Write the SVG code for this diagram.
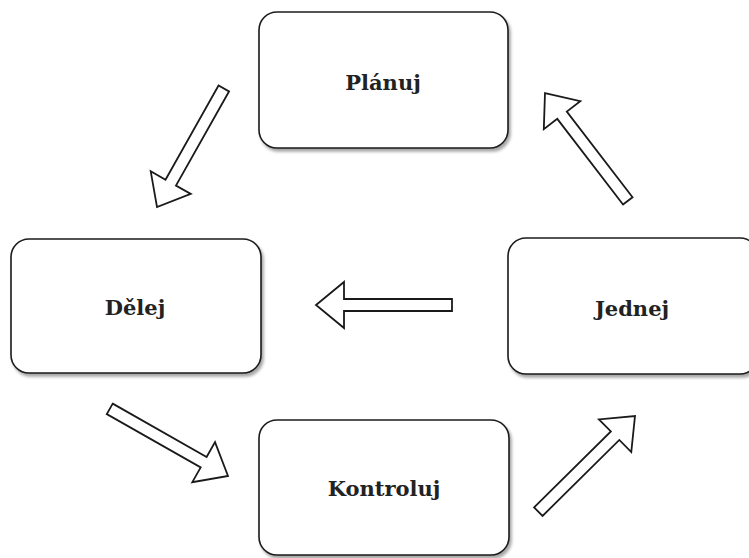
<svg xmlns="http://www.w3.org/2000/svg" width="749" height="558" viewBox="0 0 749 558">
<defs>
<filter id="sh" x="-10%" y="-10%" width="130%" height="130%">
<feDropShadow dx="2" dy="3" stdDeviation="1.5" flood-color="#000" flood-opacity="0.35"/>
</filter>
<polygon id="arr" points="-136,-6 -28,-6 -28,-23 0,0 -28,23 -28,6 -136,6"/>
</defs>
<style>
.box{fill:#fff;stroke:#1a1a1a;stroke-width:1.6;filter:url(#sh)}
.lbl{font-family:"DejaVu Serif","Liberation Serif",serif;font-weight:bold;font-size:21px;fill:#222;text-anchor:middle}
.a{fill:#fff;stroke:#1a1a1a;stroke-width:1.8;stroke-linejoin:miter}
</style>
<rect width="749" height="558" fill="#fff"/>
<g id="planuj">
<rect class="box" x="259" y="12" width="249" height="136" rx="18"/>
<text class="lbl" x="383" y="90">Plánuj</text>
</g>
<g id="delej">
<rect class="box" x="11" y="239" width="250" height="134" rx="18"/>
<text class="lbl" x="135" y="315">Dělej</text>
</g>
<g id="jednej">
<rect class="box" x="508" y="238" width="250" height="136" rx="18"/>
<text class="lbl" x="632" y="316">Jednej</text>
</g>
<g id="kontroluj">
<rect class="box" x="259" y="420" width="250" height="135" rx="18"/>
<text class="lbl" x="384" y="496">Kontroluj</text>
</g>
<g id="connectors">
<use href="#arr" class="a" transform="translate(157,207) rotate(119.4)"/>
<use href="#arr" class="a" transform="translate(545,93) rotate(-127.5)"/>
<use href="#arr" class="a" transform="translate(316,305) rotate(180)"/>
<use href="#arr" class="a" transform="translate(228,476) rotate(29.6)"/>
<use href="#arr" class="a" transform="translate(635,416) rotate(-44.7)"/>
</g>
</svg>
